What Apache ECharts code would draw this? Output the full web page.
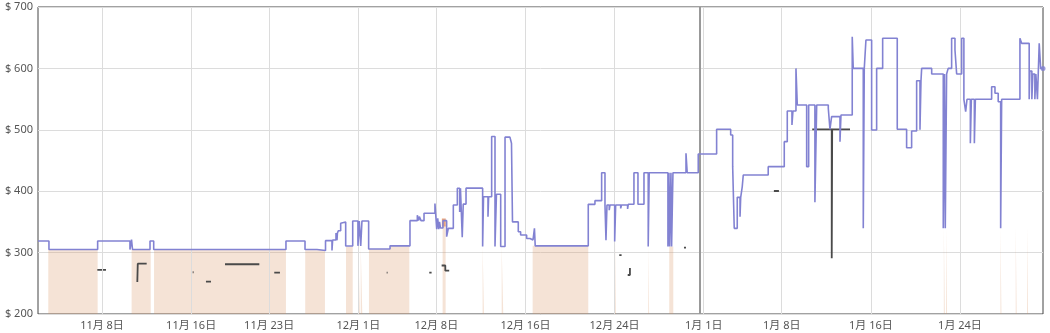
<!DOCTYPE html>
<html>
<head>
<meta charset="utf-8">
<title>price history</title>
<script src="https://cdn.jsdelivr.net/npm/echarts@6/dist/echarts.min.js"></script>
<style>
  html, body { margin: 0; padding: 0; background: #fff; }
  #chart { width: 1050px; height: 333px; }
</style>
</head>
<body>
<div id="chart"></div>
<script>
// x = days since 11/1 00:00, y = price in $
var tickDays = [7, 15, 22, 30, 37, 45, 53, 61, 68, 76, 84];
var tickLabels = ["11月 8日", "11月 16日", "11月 23日", "12月 1日", "12月 8日", "12月 16日",
                  "12月 24日", "1月 1日", "1月 8日", "1月 16日", "1月 24日"];
var yearMark = 60.66;

// third-party new price (blue step line)
var newPrice = [
  [1.26,319],[2.24,305],[6.61,319],[9.51,305],[9.65,321],[9.74,305],[11.31,319],[11.64,305],
  [23.51,319],[25.22,305],[26.29,303.5],[27.06,319.5],[27.64,303.5],[27.70,320.5],[28.00,332],
  [28.09,320],[28.13,332],[28.21,335.7],[28.42,347.7],[28.54,350],[28.87,310.7],[29.50,351.5],
  [29.97,311],[30.09,351.5],[30.22,311],[30.33,351.5],[30.93,305.8],[32.85,311],[34.64,352],
  [35.30,361],[35.41,352],[35.48,358.5],[35.63,352],[35.90,364],[36.88,380],[37.04,338],
  [37.13,356],[37.22,338],[37.29,350],[37.38,340],[37.60,352],[37.93,326],[38.08,339.5],
  [38.53,377.5],[38.89,404.7],[39.10,366],[39.17,404.7],[39.33,325],[39.42,379],[39.67,405],
  [41.16,310],[41.24,391],[41.64,358.5],[41.70,391],[41.97,489],[42.27,310],[42.40,395],
  [42.78,310],[43.17,488],[43.61,485],[43.75,478],[43.84,350],[44.36,334],[44.57,328.7],
  [45.11,323],[45.41,320.5],[45.68,322],[45.81,339.5],[45.88,311],[50.64,378.6],[51.24,384.6],
  [51.84,430],[52.14,377.5],[52.23,320],[52.32,377.5],[52.52,369],[52.59,377.5],[53.01,318],
  [53.10,377.5],[53.55,372],[53.62,377.5],[54.17,371],[54.23,378.7],[54.74,430],[55.10,378.7],
  [55.64,430],[56.02,310],[56.11,430],[57.79,310],[57.88,430],[57.94,310],[58.06,430],
  [58.12,310],[58.24,430],[59.41,461.7],[59.52,430],[60.51,460.6],[62.16,500.8],[63.42,491.5],
  [63.60,440],[63.74,339.5],[64.01,390],[64.26,358.5],[64.32,390],[64.46,407.5],[64.55,426.4],
  [66.79,440],[68.23,480.7],[68.50,530.6],[68.92,508],[69.01,530.6],[69.28,600],[69.40,540.4],
  [70.24,440],[70.42,540.4],[70.98,382],[71.14,540.4],[72.18,535],[72.33,500.8],[72.48,521.4],
  [73.23,480.7],[73.32,524],[74.33,651.7],[74.42,600],[75.32,339.5],[75.41,600],[75.56,646.3],
  [76.07,499.7],[76.52,600],[77.06,649],[78.37,500.8],[79.21,470.8],[79.66,498],[80.11,580],
  [80.41,500],[80.50,580],[80.56,600],[81.46,591],[82.50,339.5],[82.61,591],[82.68,339.5],
  [82.80,591],[82.94,600],[83.25,649],[83.55,630],[83.70,591],[84.15,649],[84.35,549.7],
  [84.51,529.5],[84.63,549.7],[84.93,478],[85.02,549.7],[85.29,478],[85.38,549.7],[86.84,570],
  [87.14,559.5],[87.43,545.8],[87.65,339.5],[87.74,549.7],[89.38,649],[89.53,640.8],
  [90.21,549.7],[90.27,595.8],[90.45,549.7],[90.54,591],[90.72,549.7],[90.81,591],
  [90.95,549.7],[91.11,640.8],[91.24,600],[91.45,600]
];

// amazon price (peach area), null = not available
var amazonPrice = [
  [2.18,305],[6.61,305],null,
  [9.66,305],[11.37,305],null,
  [11.67,305],[23.51,305],null,
  [25.24,304],[27.01,304],null,
  [28.90,310],[29.50,310],null,
  [30.00,310],[30.15,310],null,
  [30.22,310],[30.36,310],null,
  [30.96,305.8],[32.85,311],[34.58,311],null,
  [37.57,345],[37.84,345],null,
  [41.16,310],[41.28,310],null,
  [42.87,310],[43.01,310],null,
  [45.65,311],[50.64,311],null,
  [53.04,320],[53.12,320],null,
  [56.02,310],[56.10,310],null,
  [57.91,310],[58.27,310],null,
  [82.55,339.5],[82.64,339.5],null,
  [82.75,339.5],[82.84,339.5],null,
  [87.63,339.5],[87.72,339.5],null,
  [89.00,340],[89.09,340],null,
  [90.02,341],[90.11,341]
];

// used price (dark segments)
var usedPrice = [
  [6.58,272],[7.36,272],null,
  [10.17,252],[10.21,282],[11.01,282],null,
  [15.14,268],[15.22,268],null,
  [16.33,252.6],[16.78,252.6],null,
  [18.04,281],[21.12,281],null,
  [22.46,267.3],[22.97,267.3],null,
  [32.55,267.3],[32.63,267.3],null,
  [36.37,267.3],[36.58,267.3],null,
  [37.48,279],[37.81,270.5],[38.16,270.5],null,
  [40.41,270.5],[40.47,270.5],null,
  [47.11,280],[47.16,280],null,
  [48.40,280],[48.45,280],null,
  [49.30,295.6],[49.35,295.6],null,
  [53.42,296],[53.63,296],null,
  [54.18,263.5],[54.38,275],[54.40,275],null,
  [59.23,308],[59.41,308],null,
  [67.30,400.3],[67.75,400.3],null,
  [70.74,500.8],[72.49,290.7],[72.53,500.8],[74.13,500.8]
];

// short amazon deal blip
var dealPrice = [[37.50,349],[37.85,349]];

var chart = echarts.init(document.getElementById('chart'), null, { renderer: 'canvas' });
var font = "'Noto Sans', 'Noto Sans CJK SC', sans-serif";

chart.setOption({
  animation: false,
  grid: { left: 38, right: 7, top: 7, bottom: 19, show: true, borderColor: '#444', borderWidth: 1, backgroundColor: 'transparent' },
  xAxis: {
    type: 'value',
    min: 1.257,
    max: 91.45,
    axisLine: { show: false },
    axisTick: { show: false },
    splitLine: { show: false },
    axisLabel: {
      customValues: tickDays,
      color: '#555',
      fontSize: 11,
      fontFamily: font,
      margin: 6,
      formatter: function (v) {
        var i = tickDays.indexOf(v);
        return i >= 0 ? tickLabels[i] : '';
      }
    }
  },
  yAxis: {
    type: 'value',
    min: 200,
    max: 700,
    interval: 100,
    axisLine: { show: false },
    axisTick: { show: false },
    splitLine: { lineStyle: { color: '#dcdcdc', width: 1 } },
    axisLabel: { color: '#555', fontSize: 11, fontFamily: font, margin: 5, formatter: '$ {value}' }
  },
  series: [
    {
      name: 'grid',
      type: 'line',
      data: [],
      z: 1,
      silent: true,
      markLine: {
        silent: true,
        symbol: ['none', 'none'],
        label: { show: false },
        lineStyle: { type: 'solid', color: '#dcdcdc', width: 1 },
        data: tickDays.map(function (d) { return { xAxis: d }; })
      }
    },
    {
      name: 'Amazon',
      type: 'line',
      step: 'end',
      data: amazonPrice,
      z: 2,
      showSymbol: false,
      connectNulls: false,
      lineStyle: { width: 0 },
      areaStyle: { color: 'rgba(215,143,91,0.25)', origin: 'start', opacity: 1 }
    },
    {
      name: 'deal',
      type: 'line',
      data: dealPrice,
      z: 3,
      showSymbol: false,
      lineStyle: { color: '#eaa57a', width: 8, cap: 'butt' }
    },
    {
      name: 'year',
      type: 'line',
      data: [],
      z: 3,
      silent: true,
      markLine: {
        silent: true,
        symbol: ['none', 'none'],
        label: { show: false },
        lineStyle: { type: 'solid', color: '#999', width: 2 },
        data: [{ xAxis: yearMark }]
      }
    },
    {
      name: 'used',
      type: 'line',
      step: 'end',
      data: usedPrice,
      z: 4,
      showSymbol: false,
      connectNulls: false,
      lineStyle: { color: '#4a4a4a', width: 1.8 }
    },
    {
      name: 'new',
      type: 'line',
      step: 'end',
      data: newPrice,
      z: 5,
      showSymbol: false,
      lineStyle: { color: '#8282d2', width: 1.6 }
    },
    {
      name: 'last',
      type: 'scatter',
      data: [newPrice[newPrice.length - 1]],
      z: 6,
      symbolSize: 5,
      itemStyle: { color: '#8282d2' }
    }
  ]
});
</script>
</body>
</html>
